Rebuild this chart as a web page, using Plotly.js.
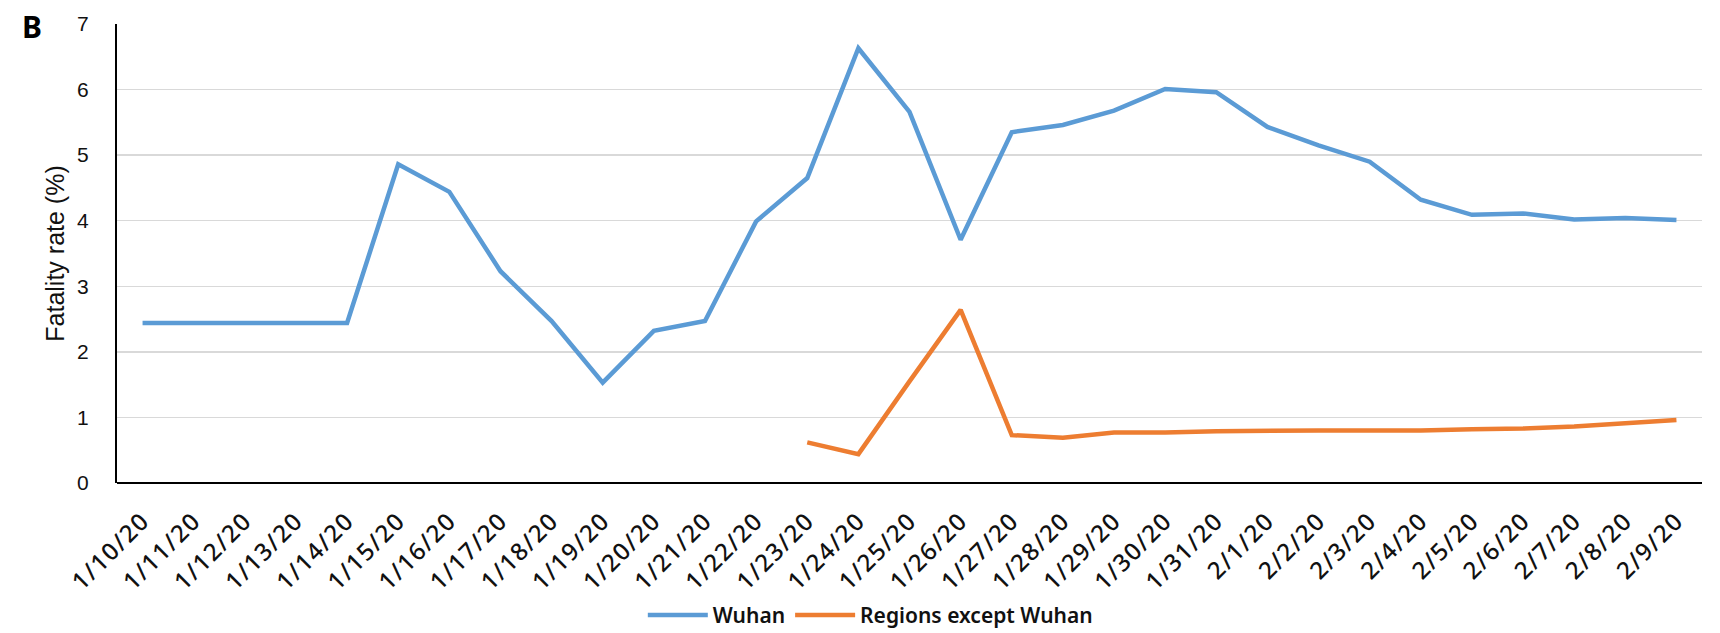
<!DOCTYPE html>
<html>
<head>
<meta charset="utf-8">
<script src="https://cdn.plot.ly/plotly-3.0.1.min.js"></script>
<style>
html,body{margin:0;padding:0;background:#fff;}
#chart{width:1720px;height:633px;}
#chart .xtick text{letter-spacing:1.5px;}
</style>
</head>
<body>
<div id="chart"></div>
<script>
const dates = ["1/10/20","1/11/20","1/12/20","1/13/20","1/14/20","1/15/20","1/16/20","1/17/20","1/18/20","1/19/20","1/20/20","1/21/20","1/22/20","1/23/20","1/24/20","1/25/20","1/26/20","1/27/20","1/28/20","1/29/20","1/30/20","1/31/20","2/1/20","2/2/20","2/3/20","2/4/20","2/5/20","2/6/20","2/7/20","2/8/20","2/9/20"];
const wuhan = [2.44,2.44,2.44,2.44,2.44,4.86,4.44,3.23,2.47,1.53,2.32,2.47,3.99,4.65,6.63,5.66,3.71,5.35,5.46,5.68,6.01,5.96,5.43,5.15,4.90,4.32,4.09,4.11,4.02,4.04,4.01];
const otherRegions = [null,null,null,null,null,null,null,null,null,null,null,null,null,0.62,0.44,1.55,2.64,0.73,0.69,0.77,0.77,0.79,0.80,0.80,0.80,0.80,0.82,0.83,0.86,0.91,0.96];
const seriesNames = ["Wuhan","Regions except Wuhan"];
const yTicks = [0,1,2,3,4,5,6,7];

const traces = [
  {x: dates, y: wuhan, name: seriesNames[0], type: 'scatter', mode: 'lines',
   line: {color: '#5B9BD5', width: 4.5}},
  {x: dates, y: otherRegions, name: seriesNames[1], type: 'scatter', mode: 'lines',
   line: {color: '#ED7D31', width: 4.5}, connectgaps: false}
];

const layout = {
  width: 1720, height: 633,
  margin: {l: 117, r: 18, t: 24, b: 150},
  paper_bgcolor: '#fff', plot_bgcolor: '#fff',
  showlegend: true,
  legend: {orientation: 'h', xref: 'container', yref: 'container',
    x: 0.506, xanchor: 'center', y: 0.028, yanchor: 'middle',
    font: {family: '"Noto Sans", sans-serif', size: 21, color: '#111', weight: 600},
    itemwidth: 60, tracegroupgap: 0},
  xaxis: {type: 'category', categoryorder: 'array', categoryarray: dates,
    range: [-0.5, 30.5], showgrid: false, zeroline: false, automargin: false,
    showline: false, ticks: '', tickangle: -45, ticklabelstandoff: 18,
    tickfont: {family: '"Noto Sans", sans-serif', size: 24, color: '#111', weight: 500}},
  yaxis: {range: [0, 7], tickvals: yTicks, ticktext: yTicks.map(String), automargin: false,
    showgrid: true, gridcolor: '#d9d9d9', gridwidth: 1.5,
    zeroline: true, zerolinecolor: '#000', zerolinewidth: 2,
    showline: true, linecolor: '#000', linewidth: 2, ticks: '',
    ticklabelstandoff: 22,
    tickfont: {family: 'Arial, "Liberation Sans", sans-serif', size: 21, color: '#111'},
    title: {text: 'Fatality rate (%)', standoff: 5,
      font: {family: 'Arial, "Liberation Sans", sans-serif', size: 25, color: '#111'}}},
  annotations: [{text: '<b>B</b>', xref: 'paper', yref: 'paper', x: -0.0536, y: 0.9935,
    xanchor: 'center', yanchor: 'middle', showarrow: false,
    font: {family: '"Noto Sans", sans-serif', size: 30, color: '#000'}}]
};

Plotly.newPlot('chart', traces, layout, {displayModeBar: false, staticPlot: true});
</script>
</body>
</html>
